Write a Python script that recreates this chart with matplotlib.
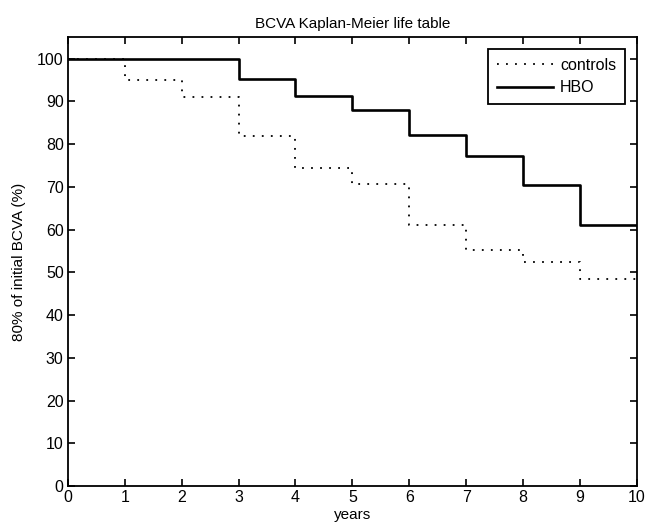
import matplotlib
matplotlib.use("Agg")
import matplotlib.pyplot as plt

# Kaplan-Meier life table, value held over each yearly interval
years = [0, 1, 2, 3, 4, 5, 6, 7, 8, 9, 10]
controls = [100, 95, 91, 82, 74.3, 70.6, 61, 55.2, 52.3, 48.4]
hbo = [100, 100, 100, 95.2, 91.2, 87.9, 82.2, 77.1, 70.4, 61.1]

plt.rcParams['font.family'] = ['Liberation Sans', 'DejaVu Sans']
plt.rcParams['font.size'] = 11

fig = plt.figure(figsize=(6.46, 5.32), dpi=100)
ax = fig.add_axes([0.105, 0.0865, 0.881, 0.8435])

ax.step(years, controls + [controls[-1]], where='post', color='black',
        linestyle=(0, (1, 4)), linewidth=1.3, label='controls', zorder=2)
ax.step(years, hbo + [hbo[-1]], where='post', color='black',
        linestyle='-', linewidth=1.9, label='HBO', zorder=3)

ax.set_xlim(0, 10)
ax.set_ylim(0, 105)
ax.set_xticks(range(0, 11))
ax.set_yticks(range(0, 101, 10))
ax.tick_params(direction='in', length=5, width=1.2, top=True, right=True,
               labelsize=11.5, pad=3)
for s in ax.spines.values():
    s.set_linewidth(1.3)

ax.set_title('BCVA Kaplan-Meier life table', fontsize=11, pad=7)
ax.set_xlabel('years', fontsize=11, labelpad=2)
ax.set_ylabel('80% of initial BCVA (%)', fontsize=11, labelpad=8)

leg = ax.legend(loc='upper right', fancybox=False, edgecolor='black',
                framealpha=1, fontsize=11.5, handlelength=3.5,
                borderaxespad=0.75, handletextpad=0.45, labelspacing=0.45,
                borderpad=0.55)
leg.get_frame().set_linewidth(1.3)

fig.savefig('out.png', dpi=100)
